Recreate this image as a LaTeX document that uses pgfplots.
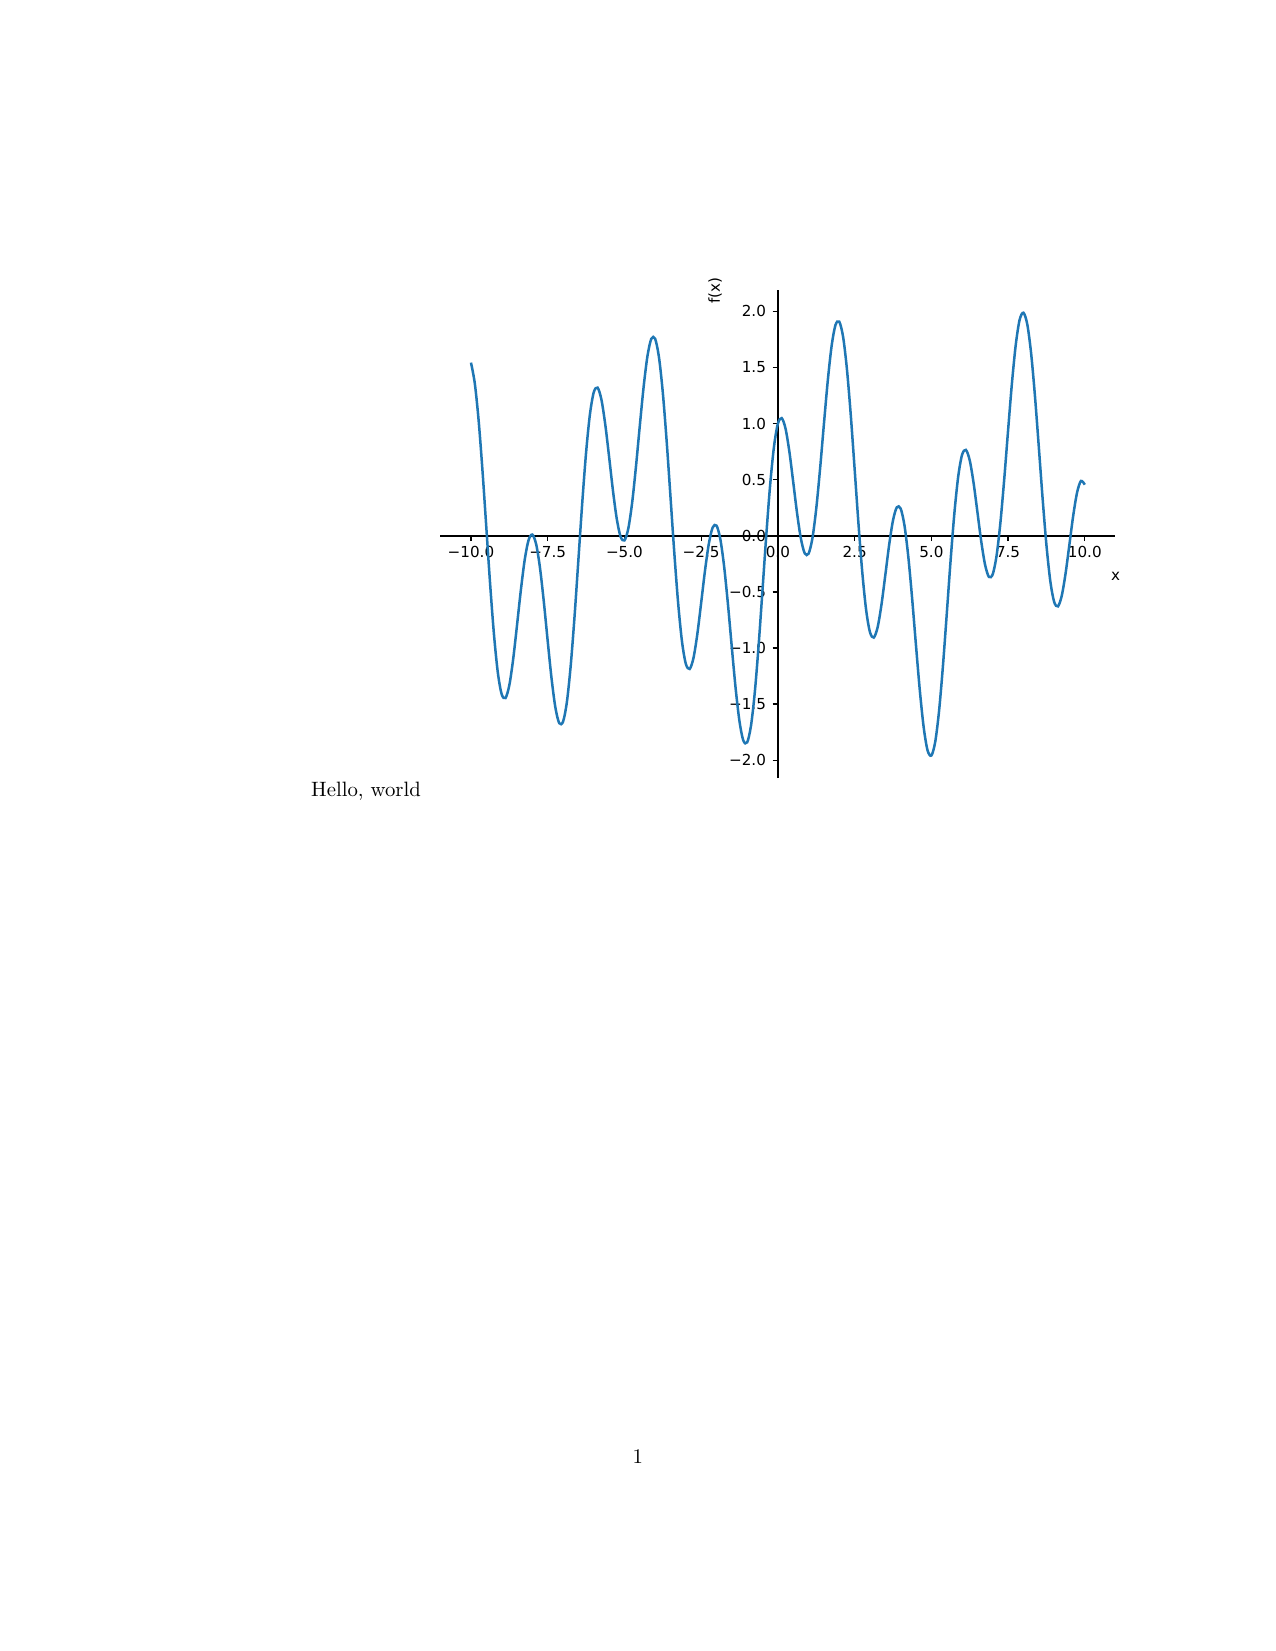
\documentclass[border=0pt]{standalone}
\usepackage{fontspec}
\usepackage{pgfplots}
\pgfplotsset{compat=1.18}
\newfontfamily\dejavu{DejaVu Sans}
\definecolor{mplblue}{HTML}{1F77B4}
\begin{document}
\begin{tikzpicture}[x=1bp,y=1bp]
\useasboundingbox[fill=white] (0,0) rectangle (612,-792);
\begin{axis}[
  at={(211.2bp,-373.3bp)}, anchor=south west,
  scale only axis, width=323.9bp, height=234bp,
  xmin=-11, xmax=11, ymin=-2.161, ymax=2.188,
  axis lines=middle,
  axis line style={-, black, line width=0.7bp},
  every inner x axis line/.append style={-},
  every inner y axis line/.append style={-},
  hide obscured x ticks=false, hide obscured y ticks=false,
  xtick={-10,-7.5,-5,-2.5,0,2.5,5,7.5,10},
  xticklabels={−10.0,−7.5,−5.0,−2.5,0.0,2.5,5.0,7.5,10.0},
  ytick={-2,-1.5,-1,-0.5,0,0.5,1,1.5,2},
  yticklabels={−2.0,−1.5,−1.0,−0.5,0.0,0.5,1.0,1.5,2.0},
  minor tick num=0,
  tick align=outside,
  major tick length=2.55bp,
  tick style={black, line width=0.6bp},
  xticklabel style={font=\dejavu\fontsize{7.3}{8.8}\selectfont, anchor=north, inner sep=0pt, yshift=-2.4bp},
  yticklabel style={font=\dejavu\fontsize{7.3}{8.8}\selectfont, anchor=east, inner sep=0pt, xshift=-3.0bp},
  xlabel={x}, ylabel={f(x)},
  xlabel style={font=\dejavu\fontsize{7.3}{8.8}\selectfont, at={(axis description cs:1.0,0.4137)}, anchor=center, inner sep=0pt},
  ylabel style={font=\dejavu\fontsize{7.3}{8.8}\selectfont, at={(axis description cs:0.4069,1.0)}, rotate=90, anchor=center, inner sep=0pt},
]
\addplot[mplblue, line width=1.2bp, smooth, no marks] coordinates {
(-10,1.544) (-9.875,1.359) (-9.75,1.027) (-9.625,0.582) (-9.5,0.075) (-9.375,-0.433) (-9.25,-0.881) (-9.125,-1.219)
(-9,-1.412) (-8.875,-1.446) (-8.75,-1.332) (-8.625,-1.100) (-8.5,-0.798) (-8.375,-0.485) (-8.25,-0.216) (-8.125,-0.040)
(-8,0.011) (-7.875,-0.076) (-7.75,-0.288) (-7.625,-0.591) (-7.5,-0.938) (-7.375,-1.270) (-7.25,-1.530) (-7.125,-1.670)
(-7,-1.657) (-6.875,-1.482) (-6.75,-1.157) (-6.625,-0.718) (-6.5,-0.215) (-6.375,0.291) (-6.25,0.740) (-6.125,1.081)
(-6,1.279) (-5.875,1.321) (-5.75,1.215) (-5.625,0.994) (-5.5,0.706) (-5.375,0.406) (-5.25,0.152) (-5.125,-0.008)
(-5,-0.041) (-4.875,0.063) (-4.75,0.292) (-4.625,0.614) (-4.5,0.978) (-4.375,1.326) (-4.25,1.602) (-4.125,1.756)
(-4,1.757) (-3.875,1.593) (-3.75,1.279) (-3.625,0.848) (-3.5,0.351) (-3.375,-0.151) (-3.25,-0.599) (-3.125,-0.941)
(-3,-1.141) (-2.875,-1.187) (-2.75,-1.089) (-2.625,-0.877) (-2.5,-0.598) (-2.375,-0.311) (-2.25,-0.071) (-2.125,0.074)
(-2,0.091) (-1.875,-0.030) (-1.75,-0.277) (-1.625,-0.616) (-1.5,-0.997) (-1.375,-1.364) (-1.25,-1.656) (-1.125,-1.826)
(-1,-1.841) (-0.875,-1.691) (-0.75,-1.389) (-0.625,-0.968) (-0.5,-0.479) (-0.375,0.016) (-0.25,0.460) (-0.125,0.799)
(0,1.000) (0.125,1.049) (0.25,0.955) (0.375,0.749) (0.5,0.479) (0.625,0.202) (0.75,-0.025) (0.875,-0.156)
(1,-0.159) (1.125,-0.022) (1.25,0.242) (1.375,0.598) (1.5,0.997) (1.625,1.381) (1.75,1.691) (1.875,1.878)
(2,1.909) (2.125,1.774) (2.25,1.485) (2.375,1.076) (2.5,0.598) (2.625,0.111) (2.75,-0.325) (2.875,-0.660)
(3,-0.859) (3.125,-0.907) (3.25,-0.815) (3.375,-0.614) (3.5,-0.351) (3.625,-0.082) (3.75,0.136) (3.875,0.254)
(4,0.243) (4.125,0.092) (4.25,-0.188) (4.375,-0.561) (4.5,-0.978) (4.625,-1.379) (4.75,-1.706) (4.875,-1.911)
(5,-1.959) (5.125,-1.840) (5.25,-1.566) (5.375,-1.171) (5.5,-0.706) (5.625,-0.229) (5.75,0.199) (5.875,0.527)
(6,0.721) (6.125,0.766) (6.25,0.674) (6.375,0.474) (6.5,0.215) (6.625,-0.048) (6.75,-0.257) (6.875,-0.366)
(7,-0.343) (7.125,-0.178) (7.25,0.116) (7.375,0.505) (7.5,0.938) (7.625,1.357) (7.75,1.702) (7.875,1.924)
(8,1.989) (8.125,1.887) (8.25,1.630) (8.375,1.250) (8.5,0.798) (8.625,0.335) (8.75,-0.082) (8.875,-0.401)
(9,-0.588) (9.125,-0.629) (9.25,-0.533) (9.375,-0.333) (9.5,-0.075) (9.625,0.184) (9.75,0.388) (9.875,0.489)
(10,0.456)
};
\end{axis}
\node[anchor=base west, inner sep=0pt] at (149.1,-382.1) {Hello, world};
\node[anchor=base, inner sep=0pt] at (306,-702.1) {1};
\end{tikzpicture}
\end{document}
